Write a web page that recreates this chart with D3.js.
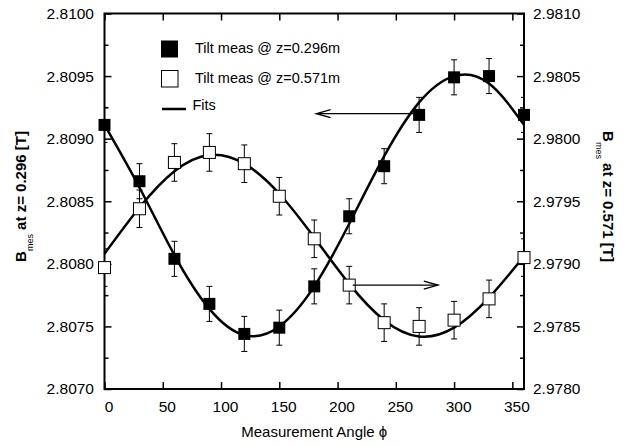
<!DOCTYPE html>
<meta charset="utf-8">
<head>
<style>
body { margin: 0; background: #fff; }
svg { display: block; font-family: "Liberation Sans", Arial, sans-serif; }
.axis text { font-size: 15.5px; fill: #000; }
.axis line { stroke: #000; stroke-width: 1.5px; }
.axis path { display: none; }
.legend text { font-size: 14.5px; }
</style>
</head>
<body>
<script src="https://cdn.jsdelivr.net/npm/d3@7"></script>
<script>

// measured angles (deg)
var angles = [0, 30, 60, 90, 120, 150, 180, 210, 240, 270, 300, 330, 360];
// B_mes at z=0.296 m (left axis)
var bLow = [2.80911, 2.80866, 2.80804, 2.80768, 2.80744, 2.80749, 2.80782, 2.80838, 2.80878, 2.80919, 2.80949, 2.80950, 2.80919];
var bLowErr = [0.00014, 0.00014, 0.00014, 0.00014, 0.00014, 0.00014, 0.00014, 0.00014, 0.00014, 0.00014, 0.00014, 0.00014, 0.00014];
// B_mes at z=0.571 m (right axis)
var bHigh = [2.97897, 2.97944, 2.97981, 2.97989, 2.97980, 2.97954, 2.97920, 2.97883, 2.97853, 2.97850, 2.97855, 2.97872, 2.97905];
var bHighErr = [0.00015, 0.00015, 0.00015, 0.00015, 0.00015, 0.00015, 0.00015, 0.00015, 0.00015, 0.00015, 0.00015, 0.00015, 0.00015];
// fit curves
var fitAngles = [0, 30, 60, 90, 120, 150, 180, 210, 240, 270, 300, 330, 360];
var fitLow = [2.80911, 2.80861, 2.80807, 2.80764, 2.80743, 2.80750, 2.80782, 2.80832, 2.80886, 2.80929, 2.80950, 2.80944, 2.80911];
var fitHigh = [2.97908, 2.97945, 2.97974, 2.97987, 2.97980, 2.97956, 2.97921, 2.97884, 2.97855, 2.97842, 2.97849, 2.97873, 2.97906];

var xTicks = [0, 50, 100, 150, 200, 250, 300, 350];
var leftTicks = [2.8070, 2.8075, 2.8080, 2.8085, 2.8090, 2.8095, 2.8100];
var rightTicks = [2.9780, 2.9785, 2.9790, 2.9795, 2.9800, 2.9805, 2.9810];

var legendLabels = ["Tilt meas @ z=0.296m", "Tilt meas @ z=0.571m", "Fits"];

var margin = {top: 13.5, right: 109, bottom: 57, left: 104.5},
    width = 633 - margin.left - margin.right,
    height = 446 - margin.top - margin.bottom;

var svg = d3.select("body").append("svg")
    .attr("width", 633)
    .attr("height", 446)
  .append("g")
    .attr("transform", "translate(" + margin.left + "," + margin.top + ")");

var x = d3.scaleLinear().domain([0, 360]).range([0, width]);
var yL = d3.scaleLinear().domain([2.8070, 2.8100]).range([height, 0]);
var yR = d3.scaleLinear().domain([2.9780, 2.9810]).range([height, 0]);
var fmt = d3.format(".4f");

function minors(t) {
  var m = [];
  for (var i = 0; i < t.length - 1; i++) m.push((t[i] + t[i + 1]) / 2);
  return m;
}

svg.append("defs").append("clipPath")
    .attr("id", "clip")
  .append("rect")
    .attr("width", width)
    .attr("height", height);

// axes, ticks pointing inward
svg.append("g").attr("class", "axis")
    .attr("transform", "translate(0," + height + ")")
    .call(d3.axisBottom(x).tickValues(xTicks).tickSize(-7).tickPadding(12))
    .selectAll("text").attr("dx", 4);
svg.append("g").attr("class", "axis")
    .call(d3.axisTop(x).tickValues(xTicks).tickSize(-7).tickFormat(""));
svg.append("g").attr("class", "axis")
    .call(d3.axisLeft(yL).tickValues(leftTicks).tickSize(-7).tickPadding(10.5).tickFormat(fmt));
svg.append("g").attr("class", "axis")
    .call(d3.axisLeft(yL).tickValues(minors(leftTicks)).tickSize(-4).tickFormat(""));
svg.append("g").attr("class", "axis")
    .attr("transform", "translate(" + width + ",0)")
    .call(d3.axisRight(yR).tickValues(rightTicks).tickSize(-7).tickPadding(9).tickFormat(fmt));
svg.append("g").attr("class", "axis")
    .attr("transform", "translate(" + width + ",0)")
    .call(d3.axisRight(yR).tickValues(minors(rightTicks)).tickSize(-4).tickFormat(""));

svg.append("rect")
    .attr("width", width)
    .attr("height", height)
    .attr("fill", "none")
    .attr("stroke", "#000")
    .attr("stroke-width", 2);

// fits
var lineL = d3.line().x(function(d, i) { return x(fitAngles[i]); }).y(function(d) { return yL(d); }).curve(d3.curveNatural);
var lineR = d3.line().x(function(d, i) { return x(fitAngles[i]); }).y(function(d) { return yR(d); }).curve(d3.curveNatural);
svg.append("path").attr("d", lineL(fitLow)).attr("fill", "none").attr("stroke", "#000").attr("stroke-width", 2.5);
svg.append("path").attr("d", lineR(fitHigh)).attr("fill", "none").attr("stroke", "#000").attr("stroke-width", 2.5);

// error bars
function errorBars(vals, errs, y) {
  var g = svg.append("g").attr("clip-path", "url(#clip)")
      .attr("stroke", "#000").attr("stroke-width", 1);
  var e = g.selectAll("g").data(vals).enter().append("g");
  e.append("line")
      .attr("x1", function(d, i) { return x(angles[i]); })
      .attr("x2", function(d, i) { return x(angles[i]); })
      .attr("y1", function(d, i) { return y(d - errs[i]); })
      .attr("y2", function(d, i) { return y(d + errs[i]); });
  e.append("line")
      .attr("x1", function(d, i) { return x(angles[i]) - 3; })
      .attr("x2", function(d, i) { return x(angles[i]) + 3; })
      .attr("y1", function(d, i) { return y(d - errs[i]); })
      .attr("y2", function(d, i) { return y(d - errs[i]); });
  e.append("line")
      .attr("x1", function(d, i) { return x(angles[i]) - 3; })
      .attr("x2", function(d, i) { return x(angles[i]) + 3; })
      .attr("y1", function(d, i) { return y(d + errs[i]); })
      .attr("y2", function(d, i) { return y(d + errs[i]); });
}
errorBars(bLow, bLowErr, yL);
errorBars(bHigh, bHighErr, yR);

var s = 12;
svg.append("g").selectAll("rect").data(bHigh).enter().append("rect")
    .attr("x", function(d, i) { return x(angles[i]) - s / 2; })
    .attr("y", function(d) { return yR(d) - s / 2; })
    .attr("width", s).attr("height", s)
    .attr("fill", "#fff").attr("stroke", "#000").attr("stroke-width", 1);
svg.append("g").selectAll("rect").data(bLow).enter().append("rect")
    .attr("x", function(d, i) { return x(angles[i]) - s / 2; })
    .attr("y", function(d) { return yL(d) - s / 2; })
    .attr("width", s).attr("height", s)
    .attr("fill", "#000");

// arrows pointing to the axis each curve belongs to
function arrow(x1, x2, yy) {
  var dir = x2 < x1 ? 1 : -1;
  svg.append("line")
      .attr("x1", x1).attr("x2", x2).attr("y1", yy).attr("y2", yy)
      .attr("stroke", "#000").attr("stroke-width", 1.2);
  svg.append("path")
      .attr("d", "M" + (x2 + dir * 14) + "," + (yy - 4) + "L" + x2 + "," + yy + "L" + (x2 + dir * 14) + "," + (yy + 4))
      .attr("fill", "none").attr("stroke", "#000").attr("stroke-width", 1.5);
}
arrow(x(265), x(182), yL(2.80920));
arrow(x(213), x(286), yR(2.97883));

// legend
var legend = svg.append("g").attr("class", "legend");
legend.append("rect").attr("x", 56.5).attr("y", 27).attr("width", 17).attr("height", 17).attr("fill", "#000");
legend.append("rect").attr("x", 57).attr("y", 57).attr("width", 16.5).attr("height", 16.5)
    .attr("fill", "#fff").attr("stroke", "#000").attr("stroke-width", 1);
legend.append("line").attr("x1", 57.5).attr("x2", 81.5).attr("y1", 95.5).attr("y2", 95.5)
    .attr("stroke", "#000").attr("stroke-width", 2.5);
legend.selectAll("text").data(legendLabels).enter().append("text")
    .attr("x", function(d, i) { return i == 2 ? 88 : 90.5; })
    .attr("y", function(d, i) { return [39.5, 69, 96][i]; })
    .text(function(d) { return d; });

// axis titles
svg.append("text")
    .attr("x", width / 2)
    .attr("y", 423)
    .attr("text-anchor", "middle")
    .style("font-size", "15px")
    .text("Measurement Angle \u03d5");

var tl = svg.append("text")
    .attr("transform", "translate(" + (26 - margin.left) + "," + (196.5 - margin.top) + ") rotate(-90)")
    .attr("text-anchor", "middle")
    .style("font-size", "15px")
    .style("font-weight", "bold");
tl.append("tspan").text("B");
tl.append("tspan").attr("dy", 7).style("font-size", "9px").style("font-weight", "normal").text("mes");
tl.append("tspan").attr("dy", -7).text(" at z= 0.296 [T]");

var tr = svg.append("text")
    .attr("transform", "translate(" + (603 - margin.left) + "," + (196.5 - margin.top) + ") rotate(90)")
    .attr("text-anchor", "middle")
    .style("font-size", "15px")
    .style("font-weight", "bold");
tr.append("tspan").text("B");
tr.append("tspan").attr("dy", 7).style("font-size", "9px").style("font-weight", "normal").text("mes");
tr.append("tspan").attr("dy", -7).text(" at z= 0.571 [T]");

</script>
</body>
